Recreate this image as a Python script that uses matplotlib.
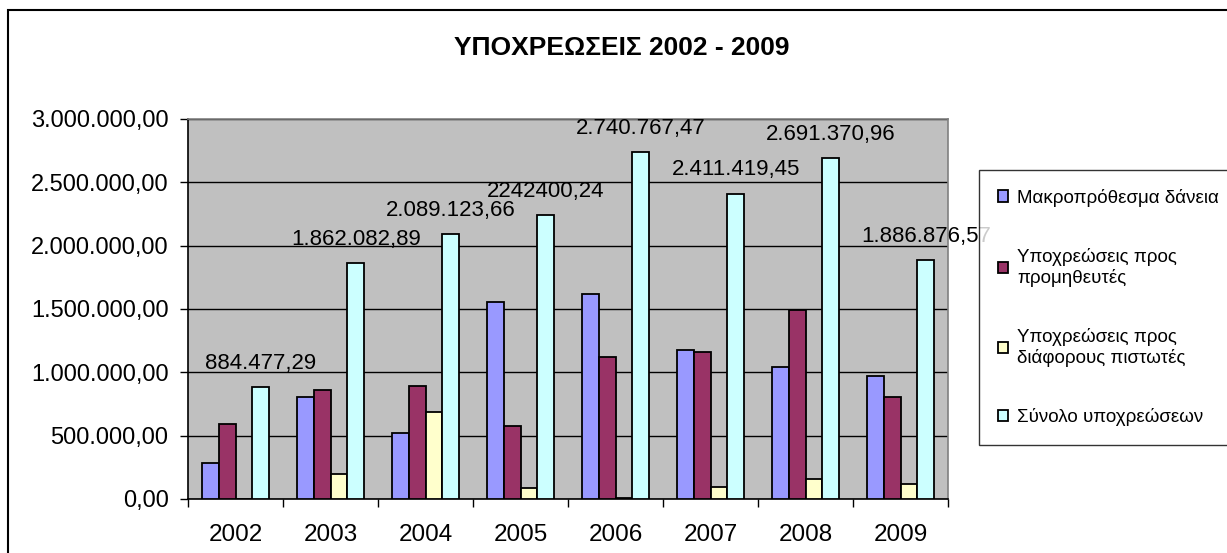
import matplotlib
matplotlib.use("Agg")
import matplotlib.pyplot as plt
import matplotlib.patches as mpatches
from matplotlib.ticker import FuncFormatter, MultipleLocator
import numpy as np

plt.rcParams['font.family'] = ['Liberation Sans', 'DejaVu Sans']

title = "ΥΠΟΧΡΕΩΣΕΙΣ 2002 - 2009"
years = ["2002", "2003", "2004", "2005", "2006", "2007", "2008", "2009"]
series_names = ["Μακροπρόθεσμα δάνεια",
                "Υποχρεώσεις προς\nπρομηθευτές",
                "Υποχρεώσεις προς\nδιάφορους πιστωτές",
                "Σύνολο υποχρεώσεων"]
long_term_loans = [282000, 809000, 525000, 1558000, 1619000, 1173000, 1039000, 968000]
suppliers = [593000, 862000, 889000, 577000, 1118000, 1157000, 1495000, 809000]
other_creditors = [0, 200000, 686000, 90000, 5000, 92000, 161000, 121000]
total = [884477.29, 1862082.89, 2089123.66, 2242400.24, 2740767.47, 2411419.45, 2691370.96, 1886876.57]
total_labels = ["884.477,29", "1.862.082,89", "2.089.123,66", "2242400,24",
                "2.740.767,47", "2.411.419,45", "2.691.370,96", "1.886.876,57"]
colors = ["#9999FF", "#993366", "#FFFFCC", "#CCFFFF"]

W, H = 1227, 553
fig = plt.figure(figsize=(W / 100, H / 100), dpi=100)
fig.patch.set_facecolor("white")

# outer chart frame
fig.patches.append(mpatches.Rectangle((8 / W, -0.2), 1.2, 1 - 10 / H + 0.2,
                                      transform=fig.transFigure, fill=False,
                                      edgecolor="black", linewidth=1.5, zorder=0))

ax = fig.add_axes([188 / W, 1 - 499 / H, (948 - 188) / W, (499 - 119) / H])
ax.set_facecolor("#C0C0C0")

x = np.arange(len(years))
bw = 1 / 1.4 / 4
data = [long_term_loans, suppliers, other_creditors, total]
bars = []
for i, (vals, c, name) in enumerate(zip(data, colors, series_names)):
    b = ax.bar(x + (i - 1.5) * bw, vals, width=bw, color=c, edgecolor="black",
               linewidth=1.3, label=name, zorder=3)
    bars.append(b)

for xi, v, lab in zip(x, total, total_labels):
    ax.annotate(lab, (xi + 1.5 * bw, v), xytext=(0, 13), textcoords="offset points",
                ha="center", va="baseline", fontsize=16, zorder=5,
                annotation_clip=False)

ax.set_xlim(-0.5, len(years) - 0.5)
ax.set_ylim(0, 3000000)
ax.yaxis.set_major_locator(MultipleLocator(500000))

def greek_fmt(v, pos):
    s = f"{v:,.2f}"
    return s.replace(",", "X").replace(".", ",").replace("X", ".")

ax.yaxis.set_major_formatter(FuncFormatter(greek_fmt))
ax.set_xticks(np.arange(-0.5, len(years) + 0.5, 1))
ax.set_xticklabels([])
ax.set_xticks(x, minor=True)
ax.set_xticklabels(years, minor=True, fontsize=17.5)
ax.tick_params(axis="x", which="major", direction="out", length=6, width=1, color="black")
ax.tick_params(axis="x", which="minor", length=0, pad=18)
ax.tick_params(axis="y", direction="out", length=6, width=1, labelsize=17, pad=8)
ax.grid(axis="y", color="black", linewidth=1, zorder=1)
ax.set_axisbelow(True)
for s in ["top", "right"]:
    ax.spines[s].set_color("#808080")
    ax.spines[s].set_linewidth(1.2)
for s in ["left", "bottom"]:
    ax.spines[s].set_color("black")
    ax.spines[s].set_linewidth(1.2)

fig.text(622 / W, 1 - 48 / H, title, ha="center", va="center", fontsize=19,
         fontweight="bold")

leg = fig.legend(handles=bars, labels=series_names, loc="upper left",
                 bbox_to_anchor=(979 / W, 1 - 443 / H, 0.3, (443 - 170) / H),
                 mode="expand", fontsize=13.5, frameon=True, fancybox=False,
                 edgecolor="black", borderpad=1.0, labelspacing=2.2,
                 handlelength=0.55, handleheight=0.55, handletextpad=0.5,
                 borderaxespad=0)
leg.get_frame().set_linewidth(1.0)
leg.set_zorder(10)

fig.savefig("out.png", dpi=100, facecolor="white")
